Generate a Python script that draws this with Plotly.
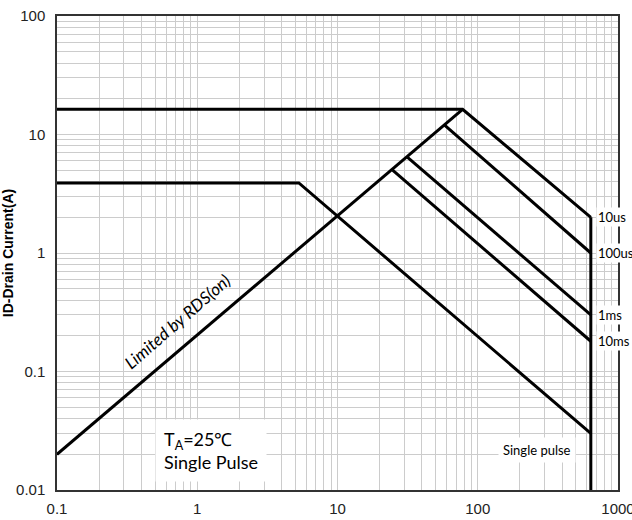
import plotly.graph_objects as go
import math

# Data (V, A)
rds_v = [0.1, 78]
rds_i = [0.02, 16.3]
lim10us_v = [0.1, 78, 640]
lim10us_i = [16.3, 16.3, 2.0]
lim100us_v = [58, 640]
lim100us_i = [12.0, 1.0]
lim1ms_v = [31.6, 640]
lim1ms_i = [6.4, 0.30]
lim10ms_v = [24.7, 640]
lim10ms_i = [5.0, 0.18]
dc_v = [0.1, 5.3, 640]
dc_i = [3.9, 3.9, 0.03]
vmax_v = [640, 640]
vmax_i = [2.0, 0.01]

pulse_labels = ["10us", "100us", "1ms", "10ms"]
pulse_label_i = [2.0, 1.0, 0.30, 0.18]

x_ticks = [0.1, 1, 10, 100, 1000]
x_ticktext = ["0.1", "1", "10", "100", "1000"]
y_ticks = [0.01, 0.1, 1, 10, 100]
y_ticktext = ["0.01", "0.1", "1", "10", "100"]

XR = [-1, 3]
YR = [-2, 2]

fig = go.Figure()
line = dict(color="black", width=3)
for xs, ys in [(rds_v, rds_i), (lim10us_v, lim10us_i), (lim100us_v, lim100us_i),
               (lim1ms_v, lim1ms_i), (lim10ms_v, lim10ms_i), (dc_v, dc_i), (vmax_v, vmax_i)]:
    fig.add_trace(go.Scatter(x=xs, y=ys, mode="lines", line=line, showlegend=False,
                             hoverinfo="skip"))

grid = "#cccccc"
tickfont = dict(family="Liberation Sans Narrow, Liberation Sans, Arial", size=15, color="#222222")
axis_common = dict(type="log", showline=True, linecolor="#333333", linewidth=1.5, mirror=True,
                   showgrid=True, gridcolor=grid, gridwidth=1, ticks="", zeroline=False,
                   tickfont=tickfont, automargin=False, ticklabeloverflow="allow",
                   minor=dict(dtick="D1", showgrid=True, gridcolor=grid, gridwidth=1, ticks=""))

fig.update_xaxes(range=XR, tickvals=x_ticks, ticktext=x_ticktext, ticklabelstandoff=4, **axis_common)
fig.update_yaxes(range=YR, tickvals=y_ticks, ticktext=y_ticktext, ticklabelstandoff=7,
                 title=dict(text="<b>ID-Drain Current(A)</b>", standoff=8,
                            font=dict(family="Liberation Sans, Arial", size=14, color="black")),
                 **axis_common)


def px(v):
    return (math.log10(v) - XR[0]) / (XR[1] - XR[0])


lab_font = dict(family="Lato, Open Sans, sans-serif", size=13, color="black")
for t, yv in zip(pulse_labels, pulse_label_i):
    fig.add_annotation(xref="paper", x=px(vmax_v[0]), y=math.log10(yv), text=t, showarrow=False,
                       xanchor="left", yanchor="middle", xshift=5, bgcolor="white",
                       font=lab_font, borderpad=1)

fig.add_annotation(x=math.log10(263), y=math.log10(0.0218), text="Single pulse", showarrow=False,
                   bgcolor="white", font=dict(family="Lato, Open Sans, sans-serif", size=13, color="black"),
                   xanchor="center", yanchor="middle", borderpad=4)

fig.add_annotation(x=math.log10(0.5), y=math.log10(0.0215),
                   text="T<sub>A</sub>=25℃<br>Single Pulse", showarrow=False, align="left",
                   bgcolor="white", font=dict(family="Lato, Open Sans, sans-serif", size=18, color="black"),
                   xanchor="left", yanchor="middle", borderpad=8)

fig.add_annotation(x=math.log10(0.72), y=math.log10(0.262), text="<i>Limited by RDS(on)</i>",
                   showarrow=False, textangle=-41,
                   font=dict(family="Lato, Open Sans, sans-serif", size=17, color="black"))

fig.update_layout(width=632, height=520, plot_bgcolor="white", paper_bgcolor="white",
                  margin=dict(l=57, r=14, t=16, b=30))

fig.write_html("out.html", config={"displayModeBar": False},
               post_script="document.body.style.margin='0';")
